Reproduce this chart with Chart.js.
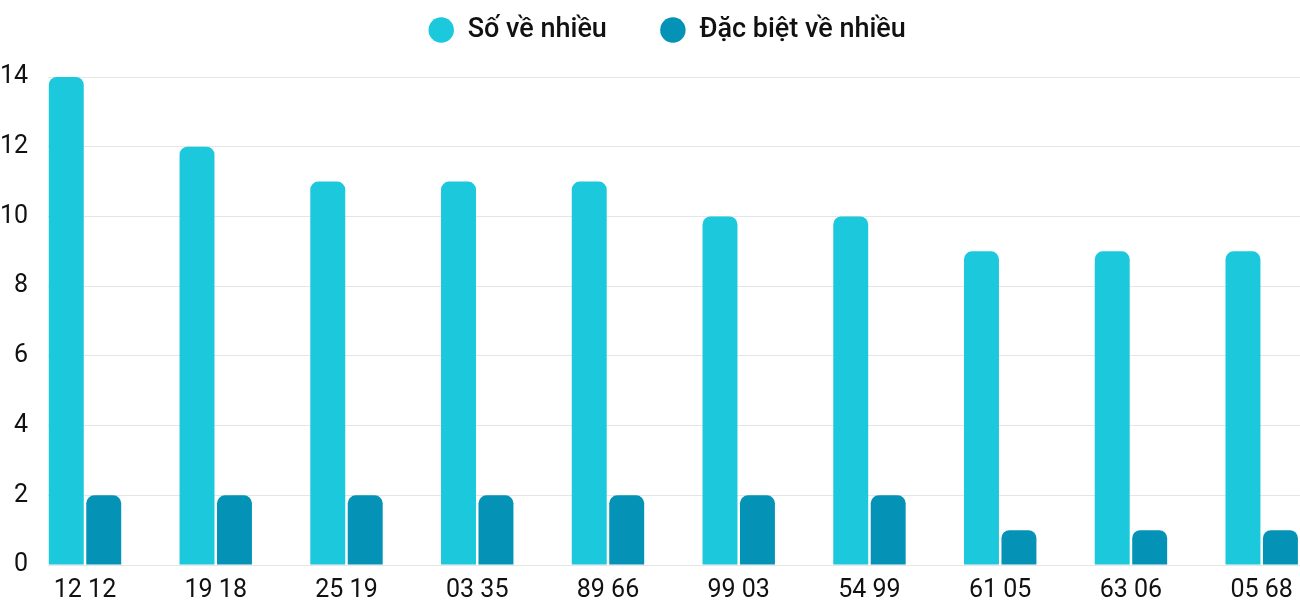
<!DOCTYPE html>
<html>
<head>
<meta charset="utf-8">
<script src="https://cdn.jsdelivr.net/npm/chart.js@4/dist/chart.umd.min.js"></script>
<style>
  html, body { margin: 0; padding: 0; background: #fff; overflow: hidden; }
  #wrap { width: 1334px; height: 600px; }
</style>
</head>
<body>
<div id="wrap"><canvas id="chart"></canvas></div>
<script>
const labels = ['12 12', '19 18', '25 19', '03 35', '89 66', '99 03', '54 99', '61 05', '63 06', '05 68'];
const soVeNhieu = [14, 12, 11, 11, 11, 10, 10, 9, 9, 9];
const dacBietVeNhieu = [2, 2, 2, 2, 2, 2, 2, 1, 1, 1];
const yTicks = [0, 2, 4, 6, 8, 10, 12, 14];

const FONT = 'Roboto';

// legend: fixed height, wide gap between items, items near the top
const legendSpace = {
    id: 'legendSpace',
    beforeInit(chart) {
        const fit = chart.legend.fit;
        chart.legend.fit = function () {
            fit.call(this);
            this.height = 77;
        };
    },
    afterLayout(chart) {
        chart.legend.top -= 36.5;
    }
};

const ctx = document.getElementById('chart').getContext('2d');
new Chart(ctx, {
    type: 'bar',
    data: {
        datasets: [{
            label: 'Số về nhiều',
            data: soVeNhieu.map((v, i) => ({ x: i, y: v })),
            backgroundColor: '#1cc8dc',
            borderRadius: 8,
            categoryPercentage: 0.573,
            barPercentage: 0.933
        }, {
            label: 'Đặc biệt về nhiều',
            data: dacBietVeNhieu.map((v, i) => ({ x: i, y: v })),
            backgroundColor: '#0493b7',
            borderRadius: 8,
            categoryPercentage: 0.573,
            barPercentage: 0.933
        }]
    },
    options: {
        responsive: true,
        maintainAspectRatio: false,
        animation: false,
        layout: { padding: 0 },
        plugins: {
            legend: {
                position: 'top',
                labels: {
                    usePointStyle: true,
                    pointStyle: 'circle',
                    boxWidth: 26,
                    boxHeight: 18,
                    padding: 53,
                    color: '#111',
                    font: { family: FONT, size: 27, weight: '500' }
                }
            },
            tooltip: { enabled: false }
        },
        scales: {
            x: {
                type: 'linear',
                offset: false,
                min: -0.283,
                max: 9.553,
                grid: { display: false },
                border: { display: false },
                afterBuildTicks: scale => {
                    scale.ticks = labels.map((_, i) => ({ value: i }));
                },
                afterFit: scale => { scale.height = 34; },
                ticks: {
                    autoSkip: false,
                    maxRotation: 0,
                    padding: 3,
                    color: '#111',
                    font: { family: FONT, size: 25 },
                    callback: v => labels[v]
                }
            },
            y: {
                min: 0,
                max: 14,
                afterBuildTicks: scale => {
                    scale.ticks = yTicks.map(v => ({ value: v }));
                },
                afterFit: scale => { scale.width = 48; },
                grid: { color: 'rgba(0,0,0,0.1)', drawTicks: false },
                border: { display: false },
                ticks: {
                    padding: 20,
                    color: '#111',
                    font: { family: FONT, size: 25 }
                }
            }
        }
    },
    plugins: [legendSpace]
});
</script>
</body>
</html>
